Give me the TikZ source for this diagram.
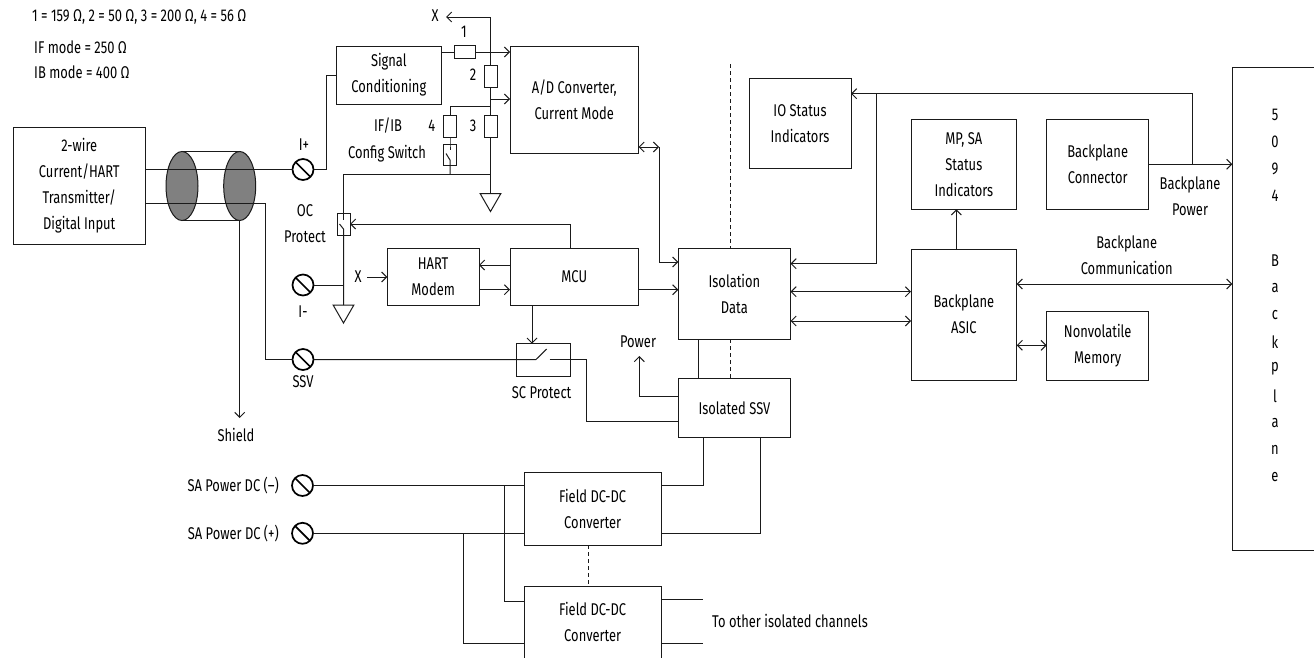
\documentclass[tikz,border=0pt]{standalone}
\usepackage{fontspec}
\setmainfont[FakeStretch=0.76]{Fira Sans}
\usetikzlibrary{arrows.meta}
\definecolor{ink}{HTML}{1A1A1A}
\tikzset{
  lbl/.style={inner sep=0pt,align=center},
  blk/.style={draw=ink,line width=1pt,inner sep=0pt,align=center,outer sep=0pt},
  res/.style={draw=ink,line width=1pt,fill=white,inner sep=0pt,outer sep=0pt},
  term/.style={circle,draw=black,line width=1.7pt,minimum size=21pt,inner sep=0pt,outer sep=0pt},
  wire/.style={draw=ink,line width=1pt},
  arr/.style={wire,-{Straight Barb[length=5pt,width=10pt,line width=1pt]}},
  bi/.style={wire,{Straight Barb[length=5pt,width=10pt,line width=1pt]}-{Straight Barb[length=5pt,width=10pt,line width=1pt]}},
  iso/.style={wire,dashed,dash pattern=on 4pt off 3pt},
  shieldcap/.style={ellipse,draw=ink,line width=1pt,fill=black!50,minimum width=32pt,minimum height=69pt,inner sep=0pt,outer sep=0pt},
}
\usetikzlibrary{shapes.geometric}
% \bx[style]{name}{x0}{y0}{x1}{y1}{text}
\newcommand{\bx}[7][blk]{%
  \pgfmathsetmacro{\bxw}{#5-#3}\pgfmathsetmacro{\bxh}{#6-#4}%
  \pgfmathsetmacro{\bxx}{(#5+#3)/2}\pgfmathsetmacro{\bxy}{(#6+#4)/2}%
  \node[#1,minimum width=\bxw pt,minimum height=\bxh pt] (#2) at (\bxx,\bxy) {#7};}
\newcommand{\tm}[3]{%
  \node[term] (#1) at (#2,#3) {};
  \draw[black,line width=1.7pt] (#1.135) -- (#1.-45);}
\begin{document}
\begin{tikzpicture}[x=1pt,y=-1pt,font=\fontsize{17}{26}\selectfont]
\useasboundingbox (0,0) rectangle (1314,657);
% boxes
\bx{src}{13}{127}{145.5}{244}{2-wire\\Current/HART\\Transmitter/\\Digital Input}
\bx{sc}{336.7}{46}{441}{104}{Signal\\Conditioning}
\bx{adc}{510}{46}{638.5}{153}{A/D Converter,\\Current Mode}
\bx{hart}{387.3}{248.7}{479}{305}{HART\\Modem}
\bx{mcu}{510}{248.7}{638.5}{305}{MCU}
\bx{isod}{678.3}{248.7}{790.5}{339}{Isolation\\Data}
\bx{isossv}{678.3}{378.7}{790.5}{437.7}{Isolated SSV}
\bx{iost}{749}{78.3}{851}{168.3}{IO Status\\Indicators}
\bx{mpsa}{911}{119.7}{1016.7}{209.3}{MP, SA\\Status\\Indicators}
\bx{asic}{911}{249}{1016.7}{380}{Backplane\\ASIC}
\bx{bpc}{1046.7}{119.7}{1148.7}{209.3}{Backplane\\Connector}
\bx{nvm}{1046.7}{311.3}{1148.7}{380}{Nonvolatile\\Memory}
\bx{bp}{1232.3}{67.7}{1314}{550}{}
\bx{dc1}{524.3}{472.7}{661}{545.3}{Field DC-DC\\Converter}
\bx{dc2}{524.3}{586}{661}{658}{Field DC-DC\\Converter}
\bx{scp}{516.7}{343.7}{570.7}{376}{}
% terminals
\tm{tip}{303}{169.5}
\tm{tim}{303}{285}
\tm{tssv}{303}{359.5}
\tm{tn}{302.5}{485.5}
\tm{tpp}{302.5}{533.3}
% cable shield
\node[shieldcap] (e1) at (182,186) {};
\node[shieldcap] (e2) at (239.7,186) {};
\draw[wire] (e1.north) -- (e2.north);
\draw[wire] (e1.south) -- (e2.south);
% field wiring
\draw[wire] (src.east |- tip) -- (tip.west);
\draw[wire] (src.east |- 0,203) -- (265,203) |- (tssv.west);
\draw[arr] (e2.south) -- (239.7,418);
\draw[wire] (tip.east) -- (326.7,169.5) |- (sc.west |- 0,75);
% switch SC
\coordinate (scin) at (536,359.5);
\coordinate (scblade) at (546.7,349);
\coordinate (scout) at (549.5,359.5);
\draw[wire] (tssv.east) -- (scin) -- (scblade);
\draw[wire] (scout) -- (586.7,359.5) |- (isossv.west |- 0,421);
% resistors
\node[res,minimum width=21.5pt,minimum height=12.5pt] (r1) at (465.2,52) {};
\node[res,minimum width=13pt,minimum height=22pt] (r2) at (490.5,76) {};
\node[res,minimum width=13pt,minimum height=22pt] (r3) at (490.5,126) {};
\node[res,minimum width=13pt,minimum height=22pt] (r4) at (450,126) {};
\node[res,minimum width=13pt,minimum height=21.5pt] (sw) at (450,155) {};
\node[res,minimum width=13pt,minimum height=22pt] (oc) at (343.5,224) {};
\coordinate (top) at (490.5,17);
\coordinate (j4) at (490.5,106.5);
\coordinate (j0) at (490.5,174);
\node[isosceles triangle,isosceles triangle apex angle=60,shape border rotate=-90,draw=ink,line width=1pt,minimum height=18pt,inner sep=0pt,outer sep=0pt,anchor=apex] (g1) at (490.5,211.5) {};
\node[isosceles triangle,isosceles triangle apex angle=60,shape border rotate=-90,draw=ink,line width=1pt,minimum height=18pt,inner sep=0pt,outer sep=0pt,anchor=apex] (g2) at (343.5,323) {};
\draw[wire] (sc.east |- r1) -- (r1.west);
\draw[arr] (r1.east) -- (adc.west |- r1);
\draw[arr] (r2.north) -- (top) -- (446,17);
\draw[wire] (r2.south) -- (r3.north);
\draw[arr] (490.5,99) -- (adc.west |- 0,99);
\draw[wire] (r3.south) -- (j0) -- (g1.north);
\draw[wire] (j4) -- (450,106.5) -- (r4.north);
\draw[wire] (r4.south) -- (sw.north) -- (450,150);
\draw[wire] (446,153.5) -- (450,160) -- (sw.south) -- (450,174);
\draw[wire] (j0) -- (343.5,174) -- (oc.north) -- (343.5,220);
\draw[wire] (339.5,224) -- (343.5,229) -- (oc.south) -- (g2.north);
\draw[wire] (tim.east) -- (343.5,285);
\draw[arr] (mcu.north -| 570,0) -- (570,224) -- (oc.east);
% HART / MCU
\draw[arr] (367,277) -- (hart.west |- 0,277);
\draw[arr] (mcu.west |- 0,265) -- (hart.east |- 0,265);
\draw[arr] (hart.east |- 0,289.7) -- (mcu.west |- 0,289.7);
\draw[arr] (532,305) -- (532,343.7);
% isolation
\draw[bi] (adc.east |- 0,147) -- (659,147);
\draw[arr] (659,147) -- (659,262) -- (isod.west |- 0,262);
\draw[arr] (mcu.east |- 0,289.7) -- (isod.west |- 0,289.7);
\draw[wire] (698.7,339) -- (698.7,378.7);
\draw[iso] (730.3,64) -- (730.3,248.7);
\draw[iso] (730.3,339) -- (730.3,378.7);
\draw[arr] (isossv.west |- 0,396.5) -- (639.3,396.5) -- (639.3,356);
% backplane side
\draw[arr] (1192.7,164.3) -- (1192.7,93.7) -- (iost.east |- 0,93.7);
\draw[arr] (876,93.7) -- (876,263.7) -- (isod.east |- 0,263.7);
\draw[bi] (isod.east |- 0,291.7) -- (asic.west |- 0,291.7);
\draw[bi] (isod.east |- 0,321) -- (asic.west |- 0,321);
\draw[arr] (956.3,249) -- (956.3,209.3);
\draw[arr] (bpc.east |- 0,164.3) -- (bp.west |- 0,164.3);
\draw[bi] (asic.east |- 0,284) -- (bp.west |- 0,284);
\draw[bi] (asic.east |- 0,345.3) -- (nvm.west |- 0,345.3);
% power
\draw[wire] (tn.east) -- (dc1.west |- tn);
\draw[wire] (tpp.east) -- (dc1.west |- tpp);
\draw[wire] (504,485.5) -- (504,601.7) -- (dc2.west |- 0,601.7);
\draw[wire] (463,533.3) -- (463,643.7) -- (dc2.west |- 0,643.7);
\draw[wire] (dc1.east |- 0,485.5) -- (703,485.5) -- (703,437.7);
\draw[wire] (dc1.east |- 0,533.3) -- (760.3,533.3) -- (760.3,437.7);
\draw[iso] (588.7,545.3) -- (588.7,586);
\draw[wire] (dc2.east |- 0,599.3) -- (703,599.3);
\draw[wire] (dc2.east |- 0,643.7) -- (703,643.7);
% labels
\node[lbl,anchor=west] (n1) at (32,17) {1 = 159 Ω, 2 = 50 Ω, 3 = 200 Ω, 4 = 56 Ω};
\node[lbl,anchor=west] (n2) at (34,47) {IF mode = 250 Ω};
\node[lbl,anchor=west] (n3) at (34,72) {IB mode = 400 Ω};
\node[lbl] (lx1) at (435,16) {X};
\node[lbl] (l1) at (464,32) {1};
\node[lbl] (l2) at (473,75) {2};
\node[lbl] (l3) at (473,126) {3};
\node[lbl] (l4) at (431.7,126) {4};
\node[lbl] (lif) at (388,126) {IF/IB};
\node[lbl] (lcs) at (387,154) {Config Switch};
\node[lbl] (lip) at (304,145) {I+};
\node[lbl] (loc) at (305,223.5) {OC\\Protect};
\node[lbl] (lim) at (303,312) {I-};
\node[lbl] (lssv) at (303,382) {SSV};
\node[lbl] (lx2) at (358,277) {X};
\node[lbl] (lsh) at (236,435) {Shield};
\node[lbl] (lscp) at (541.6,393) {SC Protect};
\node[lbl] (lpw) at (638,342) {Power};
\node[lbl,anchor=east] (lneg) at (279,485.5) {SA Power DC (–)};
\node[lbl,anchor=east] (lpos) at (279,533.3) {SA Power DC (+)};
\node[lbl,anchor=west] (lother) at (712,621) {To other isolated channels};
\node[lbl] (lbpw) at (1190,196) {Backplane\\Power};
\node[lbl] (lbcm) at (1126.7,255.5) {Backplane\\Communication};
\foreach \c/\y in {5/115,0/142,9/169,4/196,B/261,a/288,c/315,k/342,p/369,l/396,a/423,n/450,e/477}
  \node[lbl] (v\y) at (1275,\y) {\c};
\end{tikzpicture}
\end{document}
